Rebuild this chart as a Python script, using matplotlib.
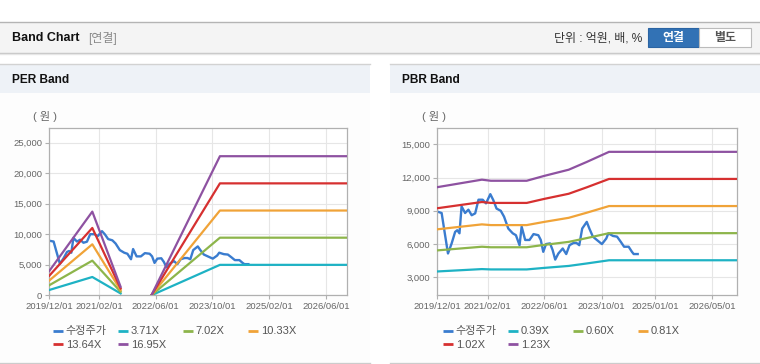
"""
band_chart.py  -  PER / PBR band chart panel (수정주가 vs multiple bands).
Bands are drawn as multiple x per-share value (EPS for PER, BPS for PBR).
"""
import numpy as np
import pandas as pd
import matplotlib
matplotlib.use("Agg")
import matplotlib.pyplot as plt
from matplotlib.patches import Rectangle

W, H = 760, 364

# ---- data ------------------------------------------------------------------
price_dates = ["2019-12-01", "2020-01-07", "2020-02-01", "2020-03-01", "2020-04-01",
               "2020-05-01", "2020-05-19", "2020-06-07", "2020-06-25", "2020-07-25",
               "2020-08-22", "2020-09-19", "2020-10-19", "2020-11-16", "2020-12-22",
               "2021-01-19", "2021-02-25", "2021-03-22", "2021-04-19", "2021-05-25",
               "2021-06-22", "2021-07-28", "2021-09-04", "2021-10-01", "2021-11-01",
               "2021-11-19", "2021-12-19", "2022-01-25", "2022-02-28", "2022-04-10",
               "2022-05-01", "2022-05-22", "2022-06-15", "2022-07-19", "2022-08-10",
               "2022-09-01", "2022-09-28", "2022-11-04", "2022-12-04", "2023-01-01",
               "2023-02-04", "2023-03-01", "2023-03-25", "2023-04-19", "2023-05-28",
               "2023-06-19", "2023-07-19", "2023-08-22", "2023-10-04", "2023-11-10",
               "2023-11-28", "2024-01-07", "2024-02-10", "2024-03-13", "2024-04-10",
               "2024-05-19", "2024-06-16", "2024-07-01", "2024-08-04"]
price_vals = [8930, 8800, 7100, 5150, 6050, 7100, 7250, 6970, 9400, 8800,
              9100, 8600, 8770, 10000, 10000, 9670, 10500, 9970, 9200, 9000,
              8470, 7400, 6970, 6800, 5900, 7570, 6370, 6370, 6900, 6800,
              6370, 5300, 6000, 6060, 5460, 4600, 5150, 5600, 5100, 5900,
              6100, 6100, 5900, 7400, 8000, 7400, 6670, 6370, 6000, 6500,
              6970, 6730, 6670, 6200, 5760, 5760, 5300, 5100, 5100]

per_dates = ["2019-12-01", "2020-12-04", "2021-08-04", "2022-01-01",
             "2022-04-27", "2023-12-04", "2026-12-01"]
per_eps = [235, 808, 82, np.nan, 5, 1343, 1343]
per_multiples = [3.71, 7.02, 10.33, 13.64, 16.95]

pbr_dates = ["2019-12-01", "2020-12-15", "2021-03-01", "2022-01-01", "2022-06-01",
             "2022-12-25", "2023-05-28", "2023-12-04", "2026-12-01"]
pbr_bps = [9050, 9600, 9520, 9520, 9880, 10330, 10900, 11640, 11640]
pbr_multiples = [0.39, 0.60, 0.81, 1.02, 1.23]

per_ticks = ["2019/12/01", "2021/02/01", "2022/06/01", "2023/10/01", "2025/02/01", "2026/06/01"]
pbr_ticks = ["2019/12/01", "2021/02/01", "2022/06/01", "2023/10/01", "2025/01/01", "2026/05/01"]

PRICE_C = "#3a7ccf"
BAND_C = ["#1eb2c4", "#8db54b", "#f0a338", "#d63030", "#8e52a1"]


def rect(x0, y0, x1, y1):
    return [x0 / W, 1 - y1 / H, (x1 - x0) / W, (y1 - y0) / H]


def band_axes(fig, x0, x1, dates, base, mults, ticks, ylim, yticks):
    ax = fig.add_axes(rect(x0, 128.3, x1, 295.3))
    ax.set_facecolor("white")
    ax.plot(pd.to_datetime(price_dates), price_vals, color=PRICE_C, lw=1.7, zorder=2)
    d = pd.to_datetime(dates)
    base = np.asarray(base, dtype=float)
    for m, c in zip(mults, BAND_C):
        ax.plot(d, m * base, color=c, lw=1.6, zorder=3)
    ax.set_xlim(pd.Timestamp("2019-12-01"), pd.Timestamp("2026-12-01"))
    ax.set_ylim(*ylim)
    ax.set_yticks(yticks)
    ax.set_yticklabels([f"{v:,}" for v in yticks])
    ax.set_xticks(pd.to_datetime(ticks))
    ax.set_xticklabels(ticks)
    ax.grid(True, color="#e6e6e6", lw=0.8)
    ax.set_axisbelow(True)
    for s in ax.spines.values():
        s.set_color("#b0b0b0"); s.set_linewidth(0.9)
    ax.tick_params(labelsize=6.8, colors="#b0b0b0", labelcolor="#666666",
                   length=3, width=0.8, pad=2)
    return ax


def legend(bg, x0, labels):
    for i, (lab, c) in enumerate(zip(labels, [PRICE_C] + BAND_C)):
        x = x0 + (i % 4) * 65
        y = 330.7 + (i // 4) * 13.5
        bg.plot([x, x + 10.5], [y, y], color=c, lw=2, solid_capstyle="butt")
        bg.text(x + 13, y + 0.5, lab, fontsize=8, color="#555555", va="center")


def main():
    plt.rcParams["font.family"] = ["Liberation Sans", "Noto Sans CJK KR"]
    fig = plt.figure(figsize=(W / 100, H / 100), dpi=100)
    fig.patch.set_facecolor("white")

    bg = fig.add_axes([0, 0, 1, 1])
    bg.set_xlim(0, W); bg.set_ylim(H, 0); bg.axis("off")

    # ---- top header bar --------------------------------------------------
    bg.add_patch(Rectangle((0, 22), W, 31, fc="#f4f4f4", ec="none"))
    bg.plot([0, W], [22.3, 22.3], color="#b4b4b4", lw=1)
    bg.plot([0, W], [53, 53], color="#c4c4c4", lw=1)
    bg.plot([0, W], [54.2, 54.2], color="#e6e6e6", lw=1)
    bg.text(12, 38, "Band Chart", fontsize=9, weight="bold", color="#111111", va="center")
    bg.text(88, 38.5, "[연결]", fontsize=8.6, color="#8a8a8a", va="center")
    bg.text(642, 38.5, "단위 : 억원, 배, %", fontsize=8.6, color="#333333",
            va="center", ha="right")
    bg.add_patch(Rectangle((648, 28.3), 51, 19, fc="#3272b5", ec="#2b64a3", lw=0.8))
    bg.add_patch(Rectangle((699, 28.3), 52, 19, fc="white", ec="#bbbbbb", lw=0.8))
    bg.text(673.5, 38.3, "연결", fontsize=8.6, weight="bold", color="white",
            ha="center", va="center")
    bg.text(725, 38.3, "별도", fontsize=8.6, weight="bold", color="#555555",
            ha="center", va="center")

    # ---- panel frames ----------------------------------------------------
    for x0, x1, title in [(0, 370, "PER Band"), (390, 760, "PBR Band")]:
        bg.add_patch(Rectangle((x0, 64), x1 - x0, 298, fc="#fdfdfd", ec="none"))
        bg.add_patch(Rectangle((x0, 64), x1 - x0, 29, fc="#eef2f7", ec="none"))
        bg.plot([x0, x1], [64.3, 64.3], color="#d2d2d2", lw=1)
        bg.plot([x0, x1], [362.6, 362.6], color="#cccccc", lw=1)
        bg.text(x0 + 12, 80, title, fontsize=8.6, weight="bold", color="#111111",
                va="center")
        bg.text(x0 + 33 if x0 == 0 else x0 + 32, 117, "( 원 )", fontsize=8,
                color="#666666", va="center")

    band_axes(fig, 49.3, 347.3, per_dates, per_eps, per_multiples, per_ticks,
              (0, 27330), [0, 5000, 10000, 15000, 20000, 25000])
    band_axes(fig, 437.3, 737.3, pbr_dates, pbr_bps, pbr_multiples, pbr_ticks,
              (1380, 16440), [3000, 6000, 9000, 12000, 15000])

    legend(bg, 52.7, ["수정주가"] + [f"{m:.2f}X" for m in per_multiples])
    legend(bg, 442.7, ["수정주가"] + [f"{m:.2f}X" for m in pbr_multiples])

    fig.savefig("out.png", dpi=100)
    plt.close(fig)


if __name__ == "__main__":
    main()
